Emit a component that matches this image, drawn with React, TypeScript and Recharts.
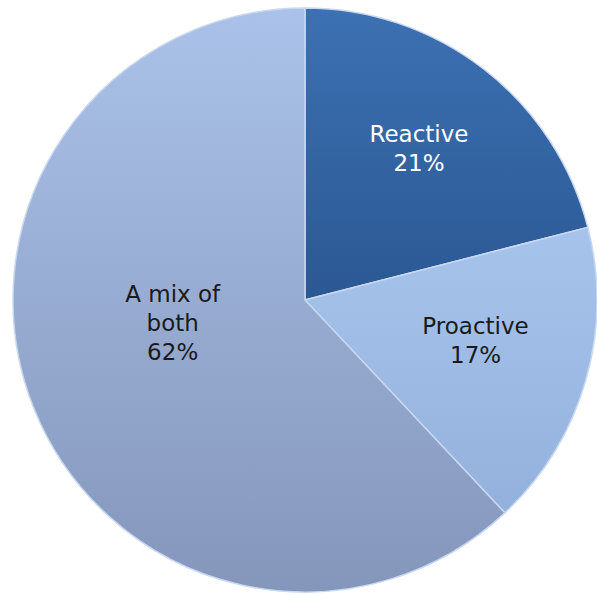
import React from "react";
import { PieChart, Pie, Cell } from "recharts";

const categories = ["Reactive", "Proactive", "A mix of both"];
const values = [21, 17, 62];
const labelLines = [["Reactive", "21%"], ["Proactive", "17%"], ["A mix of", "both", "62%"]];

const gradTop = ["#3c71b3", "#a6c4eb", "#aac2e9"];
const gradBottom = ["#2b5893", "#93b1dc", "#8596bb"];
const textColors = ["#ffffff", "#1a1a1a", "#1a1a1a"];
const labelRadiusRatio = [0.65, 0.6, 0.46];
const labelAngleShift = [0.9, 3, -11.7];

const data = categories.map((name, i) => ({ name, value: values[i], lines: labelLines[i] }));

const RAD = Math.PI / 180;

const renderLabel = (props: any) => {
  const { cx, cy, midAngle, outerRadius, index } = props;
  const r = outerRadius * labelRadiusRatio[index];
  const a = (midAngle + labelAngleShift[index]) * RAD;
  const x = cx + r * Math.cos(a);
  const y = cy - r * Math.sin(a);
  const lines: string[] = data[index].lines;
  const lh = 29;
  const start = y - ((lines.length - 1) * lh) / 2;
  return (
    <text
      x={x}
      y={start}
      fill={textColors[index]}
      textAnchor="middle"
      dominantBaseline="central"
      fontFamily="DejaVu Sans, sans-serif"
      fontSize={23}
    >
      {lines.map((l, i) => (
        <tspan key={i} x={x} y={start + i * lh} dominantBaseline="central">
          {l}
        </tspan>
      ))}
    </text>
  );
};

export default function App() {
  return (
    <div style={{ position: "absolute", left: 0, top: 0, width: 597, height: 595, background: "#ffffff" }}>
      <PieChart width={597} height={595}>
        <defs>
          {categories.map((c, i) => (
            <linearGradient key={c} id={`g${i}`} x1="0" y1="0" x2="0" y2="1">
              <stop offset="0%" stopColor={gradTop[i]} />
              <stop offset="100%" stopColor={gradBottom[i]} />
            </linearGradient>
          ))}
        </defs>
        <Pie
          data={data}
          dataKey="value"
          nameKey="name"
          cx={300}
          cy={295}
          outerRadius={292}
          startAngle={90}
          endAngle={-270}
          stroke="#c9d8ef"
          strokeWidth={1.5}
          isAnimationActive={false}
          labelLine={false}
          label={renderLabel}
        >
          {data.map((d, i) => (
            <Cell key={d.name} fill={`url(#g${i})`} />
          ))}
        </Pie>
      </PieChart>
    </div>
  );
}
